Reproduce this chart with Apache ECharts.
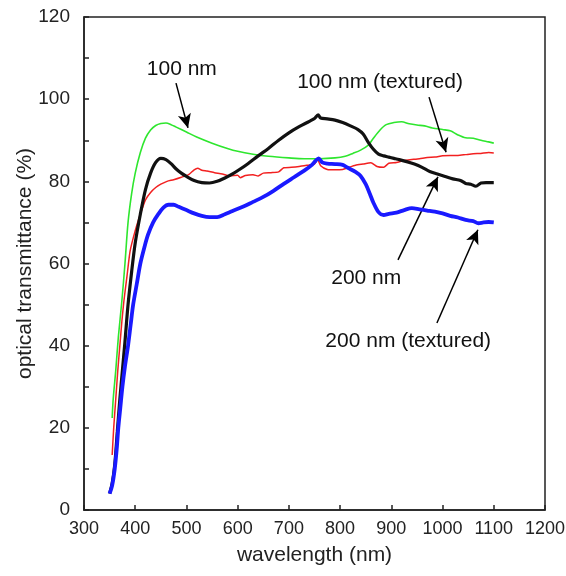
<!DOCTYPE html>
<html>
<head>
<meta charset="UTF-8">
<title>optical transmittance</title>
<script src="https://cdn.jsdelivr.net/npm/echarts@6/dist/echarts.min.js"></script>
<style>
  html, body { margin: 0; padding: 0; background: #fff; }
  #chart { width: 566px; height: 576px; }
</style>
</head>
<body>
<div id="chart"></div>
<script>
// 100 nm (green)
var wl100 = [355, 357, 362, 367, 374, 380, 386, 393, 400, 410, 420, 430, 440, 450, 460, 470, 480, 500, 520, 550, 580, 600, 630, 660, 700, 730, 760, 790, 810, 825, 840, 855, 865, 878, 890, 905, 920, 935, 950, 965, 980, 1000, 1015, 1030, 1045, 1060, 1075, 1090, 1100];
var tr100 = [22.4, 27, 34, 42, 51, 60, 70, 77, 82, 87, 90.5, 92.5, 93.6, 94.1, 94.2, 93.8, 93.2, 92, 90.8, 89.3, 88, 87.3, 86.6, 86.1, 85.7, 85.5, 85.5, 85.7, 86.1, 86.8, 87.6, 88.8, 90.5, 92.5, 93.8, 94.3, 94.5, 94.0, 93.7, 93.5, 93.0, 92.6, 92.3, 91.3, 90.6, 90.5, 90.0, 89.6, 89.3];

// 200 nm (black)
var wl200 = [350, 355, 360, 365, 370, 375, 380, 386, 393, 400, 410, 420, 430, 440, 450, 460, 470, 480, 490, 500, 515, 530, 545, 560, 575, 590, 605, 620, 640, 660, 680, 700, 720, 740, 750, 757, 762, 775, 790, 805, 820, 835, 845, 855, 865, 875, 885, 895, 905, 915, 930, 945, 960, 975, 990, 1005, 1020, 1035, 1045, 1055, 1065, 1075, 1085, 1100];
var tr200 = [4, 6.5, 11, 19, 27, 34, 41, 50, 58, 65, 72, 78, 82, 84.6, 85.6, 85.3, 84.3, 83, 82, 81.2, 80.2, 79.7, 79.6, 80, 80.8, 81.8, 83, 84.3, 86.2, 88, 90, 91.8, 93.3, 94.6, 95.3, 96.2, 95.4, 95.2, 94.9, 94.3, 93.5, 92.6, 91.5, 89.5, 87.8, 86.6, 86.2, 85.9, 85.6, 85.3, 84.8, 84.2, 83.4, 82.4, 81.8, 81.2, 80.6, 80.2, 79.5, 79.3, 78.8, 79.6, 79.7, 79.7];

// 100 nm textured (red)
var wl100t = [355, 358, 362, 366, 370, 374, 378, 384, 390, 400, 410, 420, 430, 440, 450, 462, 475, 490, 505, 515, 522, 530, 540, 555, 570, 585, 600, 605, 615, 630, 640, 650, 665, 680, 690, 705, 720, 740, 750, 756, 762, 775, 790, 805, 815, 830, 845, 860, 872, 885, 895, 910, 925, 940, 955, 970, 985, 1000, 1015, 1030, 1045, 1060, 1075, 1090, 1100];
var tr100t = [13.4, 20, 27, 34, 40, 46, 51, 57, 63, 68, 72, 75.5, 77.3, 78.5, 79.3, 80, 80.4, 81, 81.7, 82.8, 83.2, 82.7, 82.5, 82.1, 81.8, 81.3, 81.5, 80.9, 81.4, 81.6, 81.3, 82, 82.1, 82.3, 83.3, 83.4, 83.6, 84, 84.2, 85.3, 83.8, 82.9, 82.8, 82.9, 83.3, 83.9, 84.2, 84.5, 83.6, 83.4, 84.4, 84.6, 85.1, 85.3, 85.5, 85.8, 85.9, 86.2, 86.3, 86.3, 86.5, 86.7, 86.8, 87.0, 86.9];

// 200 nm textured (blue)
var wl200t = [350, 355, 360, 364, 367, 371, 375, 380, 386, 391, 396, 403, 410, 418, 425, 435, 445, 455, 465, 475, 485, 500, 515, 530, 545, 560, 575, 590, 610, 630, 650, 670, 690, 710, 730, 745, 752, 758, 765, 775, 790, 805, 815, 830, 840, 850, 858, 865, 875, 885, 895, 910, 925, 940, 955, 970, 985, 1000, 1015, 1030, 1045, 1060, 1070, 1080, 1090, 1100];
var tr200t = [4, 6, 10, 15, 20, 25, 30, 35, 40, 45, 50, 55, 60, 64, 67, 70, 72, 73.6, 74.3, 74.3, 73.8, 73, 72.2, 71.6, 71.3, 71.3, 72.0, 72.8, 73.8, 75.0, 76.2, 77.7, 79.4, 81, 82.6, 84, 85, 85.6, 84.6, 84.3, 84.2, 84, 83.3, 82.3, 81.3, 79.3, 77, 74.8, 72.5, 71.8, 72.1, 72.4, 73, 73.5, 73.2, 72.9, 72.6, 72.2, 71.6, 71.2, 70.6, 70.3, 69.8, 70.0, 70.1, 70.0];

var xTicks = [300, 1200, 100];
var yTicks = [0, 120, 20];

// annotation labels and arrows (data coords)
var labels = [
  ['100 nm', 491, 107.4],
  ['100 nm (textured)', 878, 104.2],
  ['200 nm', 851, 56.5],
  ['200 nm (textured)', 933, 41.1]
];
var arrows = [
  [[479.6, 103.9], [503, 93.0]],
  [[973.6, 100.5], [1006.8, 87.1]],
  [[913, 60.9], [991, 81.1]],
  [[989, 45.5], [1069, 68.2]]
];

function zip(xs, ys) {
  var out = [];
  for (var i = 0; i < xs.length; i++) out.push([xs[i], ys[i]]);
  return out;
}

var font = "'Liberation Sans', Arial, sans-serif";
var chart = echarts.init(document.getElementById('chart'));

var option = {
  animation: false,
  textStyle: { fontFamily: font },
  grid: {
    left: 84, right: 21, top: 17, bottom: 66,
    containLabel: false, outerBoundsMode: 'none',
    show: true, borderColor: '#222', borderWidth: 1.5, backgroundColor: 'transparent'
  },
  xAxis: {
    type: 'value',
    min: xTicks[0], max: xTicks[1], interval: xTicks[2],
    name: 'wavelength (nm)', nameLocation: 'middle', nameGap: 35, nameMoveOverlap: false,
    nameTextStyle: { fontSize: 21, color: '#222', fontFamily: font },
    axisLine: { lineStyle: { color: '#222', width: 1.5 } },
    axisTick: { inside: true, length: 5, lineStyle: { color: '#222', width: 1.5 } },
    axisLabel: {
      fontSize: 18, color: '#222', margin: 10, fontFamily: font,
      formatter: function (v) { return String(v); }
    },
    splitLine: { show: false }
  },
  yAxis: {
    type: 'value',
    min: yTicks[0], max: yTicks[1], interval: yTicks[2],
    name: 'optical transmittance (%)', nameLocation: 'middle', nameGap: 48, nameMoveOverlap: false,
    nameTextStyle: { fontSize: 21, color: '#222', fontFamily: font },
    axisLine: { show: true, lineStyle: { color: '#222', width: 1.5 } },
    axisTick: { show: true, inside: true, length: 5, lineStyle: { color: '#222', width: 1.5 } },
    minorTick: { show: true, splitNumber: 2, length: 5, lineStyle: { color: '#222', width: 1.5 } },
    axisLabel: { fontSize: 19, color: '#222', margin: 14, fontFamily: font },
    splitLine: { show: false }
  },
  series: [
    {
      name: '100 nm', type: 'line', showSymbol: false, smooth: 0.3,
      data: zip(wl100, tr100),
      lineStyle: { color: '#2ee62e', width: 1.6 }, itemStyle: { color: '#2ee62e' },
      z: 3
    },
    {
      name: '100 nm (textured)', type: 'line', showSymbol: false, smooth: 0.2,
      data: zip(wl100t, tr100t),
      lineStyle: { color: '#f22020', width: 1.5 }, itemStyle: { color: '#f22020' },
      z: 4
    },
    {
      name: '200 nm', type: 'line', showSymbol: false, smooth: 0.3,
      data: zip(wl200, tr200),
      lineStyle: { color: '#111', width: 3.2 }, itemStyle: { color: '#111' },
      z: 5
    },
    {
      name: '200 nm (textured)', type: 'line', showSymbol: false, smooth: 0.3,
      data: zip(wl200t, tr200t),
      lineStyle: { color: '#1a1aff', width: 3.8 }, itemStyle: { color: '#1a1aff' },
      z: 6,
      markLine: {
        silent: true, animation: false,
        symbol: ['none', 'arrow'], symbolSize: [10, 14],
        label: { show: false },
        lineStyle: { color: '#000', width: 1.5, type: 'solid' },
        data: arrows.map(function (a) {
          return [{ coord: a[0] }, { coord: a[1] }];
        })
      },
      markPoint: {
        silent: true, animation: false,
        symbol: 'circle', symbolSize: 1,
        itemStyle: { color: 'rgba(0,0,0,0)' },
        label: { show: true, position: 'inside', color: '#111', fontSize: 21, fontFamily: font },
        data: labels.map(function (l) {
          return { coord: [l[1], l[2]], label: { formatter: l[0] } };
        })
      }
    }
  ]
};
chart.setOption(option);
</script>
</body>
</html>
